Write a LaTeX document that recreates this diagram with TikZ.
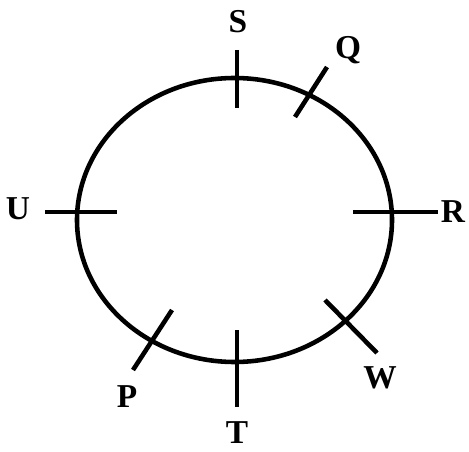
\documentclass[tikz,border=0pt]{standalone}
\usepackage{fontspec}
\setmainfont{Liberation Serif}
\usetikzlibrary{positioning, calc}

\begin{document}
\begin{tikzpicture}[
		% Style for the ring and the seat marks
		ring/.style={line width=2.6pt, black},
		seat/.style={line width=2.6pt, black},
		% Style for the letters
		seat label/.style={font=\bfseries\fontsize{19}{19}\selectfont, inner sep=0pt, anchor=center}
		]
		
		\useasboundingbox (0,0) rectangle (9.38,-9.04);
		
		% --- 1. The ring ---
		\coordinate (ctr) at (4.69,-4.40);
		\draw[ring] (ctr) ellipse [x radius=3.15, y radius=2.84];
		
		% --- 2. The seat marks ---
		\coordinate (S_a) at (4.74,-1.00);  \coordinate (S_b) at (4.74,-2.16);
		\coordinate (Q_a) at (6.54,-1.34);  \coordinate (Q_b) at (5.90,-2.34);
		\coordinate (U_a) at (0.90,-4.24);  \coordinate (U_b) at (2.34,-4.24);
		\coordinate (R_a) at (7.06,-4.24);  \coordinate (R_b) at (8.76,-4.24);
		\coordinate (P_a) at (3.44,-6.20);  \coordinate (P_b) at (2.66,-7.40);
		\coordinate (T_a) at (4.74,-6.60);  \coordinate (T_b) at (4.74,-8.14);
		\coordinate (W_a) at (6.50,-6.00);  \coordinate (W_b) at (7.54,-7.06);
		
		\foreach \s in {S, Q, U, R, P, T, W} {
			\draw[seat] (\s_a) -- (\s_b);
		}
		
		% --- 3. The letters ---
		\node[seat label] (lblS) at (4.76,-0.44) {S};
		\node[seat label] (lblQ) at (6.96,-1.00) {Q};
		\node[seat label] (lblU) at (0.36,-4.18) {U};
		\node[seat label] (lblR) at (9.06,-4.24) {R};
		\node[seat label] (lblP) at (2.54,-7.94) {P};
		\node[seat label] (lblT) at (4.74,-8.66) {T};
		\node[seat label] (lblW) at (7.60,-7.56) {W};
		
	\end{tikzpicture}
\end{document}
